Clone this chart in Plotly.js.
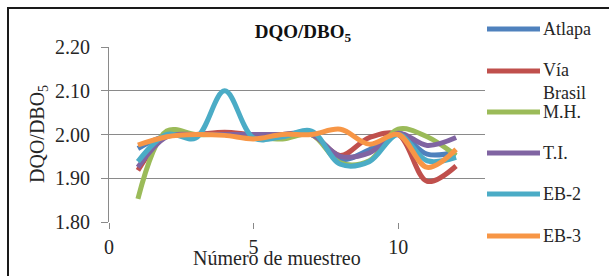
<!DOCTYPE html>
<html>
<head>
<meta charset="utf-8">
<script src="https://cdn.plot.ly/plotly-3.0.1.min.js"></script>
<style>
html,body{margin:0;padding:0;background:#fff;overflow:hidden;}
#wrap{position:relative;width:609px;height:276px;}
#chart{position:absolute;left:0;top:0;width:609px;height:276px;}
#frame{position:absolute;left:7px;top:7px;width:700px;height:400px;border-left:2px solid #1a1a1a;border-top:2px solid #1a1a1a;pointer-events:none;}
</style>
</head>
<body>
<div id="wrap"><div id="chart"></div><div id="frame"></div></div>
<script>
const sampleNumbers = [1, 2, 3, 4, 5, 6, 7, 8, 9, 10, 11, 12];
const seriesNames = ["Atlapa", "Vía<br>Brasil", "M.H.", "T.I.", "EB-2", "EB-3"];
const atlapa    = [1.968, 1.998, 2.000, 2.000, 1.993, 2.000, 2.002, 1.943, 1.965, 2.003, 1.955, 1.960];
const viaBrasil = [1.918, 1.998, 2.000, 2.005, 2.000, 2.000, 2.000, 1.952, 1.993, 2.000, 1.893, 1.928];
const mh        = [1.853, 2.008, 2.000, 2.000, 1.995, 1.990, 2.000, 1.935, 1.940, 2.012, 1.995, 1.952];
const ti        = [1.925, 1.995, 2.000, 2.000, 2.000, 2.000, 2.000, 1.950, 1.958, 2.003, 1.975, 1.993];
const eb2       = [1.938, 2.000, 1.992, 2.100, 1.992, 1.995, 2.008, 1.932, 1.938, 2.000, 1.940, 1.948];
const eb3       = [1.976, 1.995, 2.000, 1.998, 1.990, 2.000, 2.000, 2.012, 1.978, 2.000, 1.925, 1.966];
const yTickVals = [1.80, 1.90, 2.00, 2.10, 2.20];
const xTickVals = [0, 5, 10];

const allSeries = [atlapa, viaBrasil, mh, ti, eb2, eb3];
const colors = ["#4F81BD", "#C0504D", "#9BBB59", "#8064A2", "#4BACC6", "#F79646"];
const font = "Liberation Serif";
const textColor = "#262626";

const traces = allSeries.map((ys, i) => ({
  type: "scatter", mode: "lines",
  x: sampleNumbers, y: ys,
  name: seriesNames[i].replace("<br>", " "),
  line: {color: colors[i], width: 5, shape: "spline", smoothing: 1},
  showlegend: false, hoverinfo: "skip"
}));

// plot area in pixels
const L = 109, R = 485, T = 47, B = 222, W = 609, H = 276;
const px = x => (x - L) / (R - L);
const py = y => (B - y) / (B - T);

const legendY = [29, 71, 112, 153, 194, 236];
const shapes = [];
const annotations = [];
seriesNames.forEach((n, i) => {
  shapes.push({type: "line", xref: "paper", yref: "paper",
    x0: px(487), x1: px(540), y0: py(legendY[i]), y1: py(legendY[i]),
    line: {color: colors[i], width: 5}});
  const multi = n.includes("<br>");
  annotations.push({xref: "paper", yref: "paper", x: px(541), y: py(multi ? legendY[i] - 13 : legendY[i]),
    xanchor: "left", yanchor: multi ? "top" : "middle", align: "left", showarrow: false,
    text: n, font: {family: font, size: 18, color: textColor}});
});
annotations.push({xref: "paper", yref: "paper", x: px(277), y: py(258), xanchor: "center", yanchor: "middle",
  showarrow: false, text: "Número de muestreo", font: {family: font, size: 20, color: textColor}});
annotations.push({xref: "paper", yref: "paper", x: px(38), y: py(134), xanchor: "center", yanchor: "middle",
  textangle: -90, showarrow: false, text: "DQO/DBO<sub>5</sub>", font: {family: font, size: 20, color: textColor}});

const layout = {
  width: W, height: H,
  margin: {l: L, r: W - R, t: T, b: H - B, pad: 0},
  paper_bgcolor: "rgba(0,0,0,0)", plot_bgcolor: "#fff",
  font: {family: font},
  title: {text: "<b>DQO/DBO<sub>5</sub></b>", x: px(303), xref: "paper", y: 1 - 31 / H, yref: "container",
    xanchor: "center", yanchor: "middle", font: {family: font, size: 19, color: "#111"}},
  xaxis: {range: [0, 13], tickvals: xTickVals, ticktext: xTickVals.map(String),
    showgrid: false, zeroline: false, showline: false,
    ticks: "outside", ticklen: 6, tickcolor: "#888", tickwidth: 1, ticklabelstandoff: 1,
    tickfont: {family: font, size: 20, color: textColor}},
  yaxis: {range: [1.80, 2.20], tickvals: yTickVals, tickformat: ".2f",
    showgrid: true, gridcolor: "#8a8a8a", gridwidth: 1, zeroline: false,
    showline: true, linecolor: "#8a8a8a", linewidth: 1,
    ticks: "outside", ticklen: 7, tickcolor: "#8a8a8a", ticklabelstandoff: 7,
    tickfont: {family: font, size: 20, color: textColor}},
  shapes: shapes,
  annotations: annotations,
  showlegend: false
};

Plotly.newPlot("chart", traces, layout, {displayModeBar: false, staticPlot: true});
</script>
</body>
</html>
